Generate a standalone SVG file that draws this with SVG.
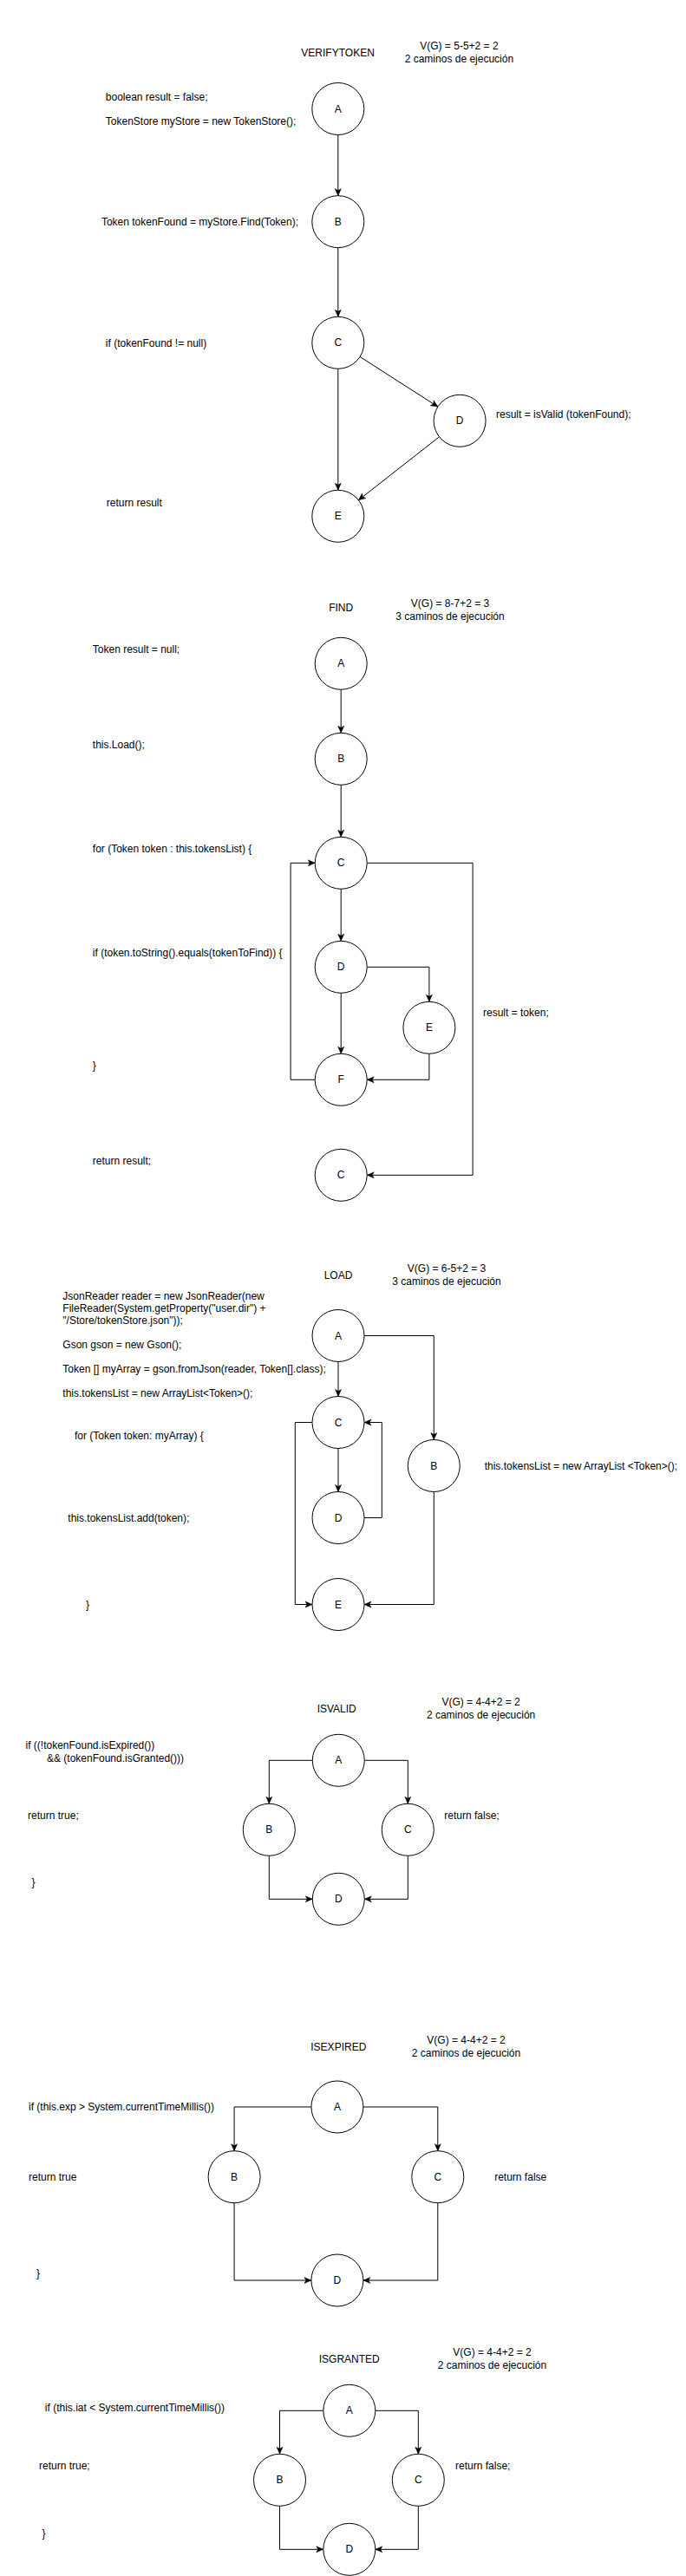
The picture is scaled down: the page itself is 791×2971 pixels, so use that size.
<svg xmlns="http://www.w3.org/2000/svg" width="791" height="2971" viewBox="0 0 791 2971">
<style>
text{font-family:"Liberation Sans",Arial,Helvetica,sans-serif;font-size:12px;fill:#000}
.m{text-anchor:middle}
.n circle{fill:#fff;stroke:#000;stroke-width:1}
.e path{fill:none;stroke:#000;stroke-width:1;marker-end:url(#arr)}
</style>
<defs>
<marker id="arr" markerWidth="10" markerHeight="10" refX="9" refY="5" orient="auto" markerUnits="userSpaceOnUse">
<path d="M1,1.5 L9,5 L1,8.5 L3,5 z" fill="#000" stroke="#000" stroke-width="0.5"/>
</marker>
</defs>
<rect width="791" height="2971" fill="#fff"/>

<!-- ===== VERIFYTOKEN ===== -->
<g id="verify-labels">
<text class="m" x="389.6" y="64.7">VERIFYTOKEN</text>
<text class="m" x="529.4" y="57.3">V(G) = 5-5+2 = 2</text>
<text class="m" x="529.4" y="71.7">2 caminos de ejecución</text>
<text x="121.8" y="115.7">boolean result = false;</text>
<text x="121.8" y="144">TokenStore myStore = new TokenStore();</text>
<text x="116.9" y="259.7">Token tokenFound = myStore.Find(Token);</text>
<text x="121.8" y="399.7">if (tokenFound != null)</text>
<text x="572" y="482.3">result = isValid (tokenFound);</text>
<text x="122.8" y="584">return result</text>
</g>
<g class="e" id="verify-edges">
<path d="M389.8,155.5 V225.7"/>
<path d="M389.8,285.7 V365.3"/>
<path d="M415.1,411.5 L504.9,469.1"/>
<path d="M389.8,425.3 V565.3"/>
<path d="M506.5,503.8 L413.4,576.8"/>
</g>
<g class="n" id="v-A"><circle cx="389.8" cy="125.5" r="30"/><text class="m" x="389.8" y="129.5">A</text></g>
<g class="n" id="v-B"><circle cx="389.8" cy="255.7" r="30"/><text class="m" x="389.8" y="259.7">B</text></g>
<g class="n" id="v-C"><circle cx="389.8" cy="395.3" r="30"/><text class="m" x="389.8" y="399.3">C</text></g>
<g class="n" id="v-D"><circle cx="530.1" cy="485.3" r="30"/><text class="m" x="530.1" y="489.3">D</text></g>
<g class="n" id="v-E"><circle cx="389.8" cy="595.3" r="30"/><text class="m" x="389.8" y="599.3">E</text></g>

<!-- ===== FIND ===== -->
<g id="find-labels">
<text class="m" x="393.2" y="704.7">FIND</text>
<text class="m" x="519" y="699.7">V(G) = 8-7+2 = 3</text>
<text class="m" x="519" y="714.7">3 caminos de ejecución</text>
<text x="106.8" y="753">Token result = null;</text>
<text x="106.8" y="863.3">this.Load();</text>
<text x="106.8" y="983">for (Token token : this.tokensList) {</text>
<text x="106.8" y="1103">if (token.toString().equals(tokenToFind)) {</text>
<text x="106.8" y="1233.3">}</text>
<text x="106.8" y="1343">return result;</text>
<text x="557" y="1172.3">result = token;</text>
</g>
<g class="e" id="find-edges">
<path d="M393.2,795.3 V845.3"/>
<path d="M393.2,905.3 V965.3"/>
<path d="M393.2,1025.3 V1085.3"/>
<path d="M423.2,1115.3 H494.9 V1155.3"/>
<path d="M393.2,1145.3 V1215.3"/>
<path d="M494.9,1215.3 V1245.3 H423.2"/>
<path d="M363.2,1245.3 H335.1 V995.3 H363.2"/>
<path d="M423.2,995.3 H545.1 V1355.3 H423.2"/>
</g>
<g class="n" id="f-A"><circle cx="393.2" cy="765.3" r="30"/><text class="m" x="393.2" y="769.3">A</text></g>
<g class="n" id="f-B"><circle cx="393.2" cy="875.3" r="30"/><text class="m" x="393.2" y="879.3">B</text></g>
<g class="n" id="f-C"><circle cx="393.2" cy="995.3" r="30"/><text class="m" x="393.2" y="999.3">C</text></g>
<g class="n" id="f-D"><circle cx="393.2" cy="1115.3" r="30"/><text class="m" x="393.2" y="1119.3">D</text></g>
<g class="n" id="f-E"><circle cx="494.9" cy="1185.3" r="30"/><text class="m" x="494.9" y="1189.3">E</text></g>
<g class="n" id="f-F"><circle cx="393.2" cy="1245.3" r="30"/><text class="m" x="393.2" y="1249.3">F</text></g>
<g class="n" id="f-C2"><circle cx="393.2" cy="1355.3" r="30"/><text class="m" x="393.2" y="1359.3">C</text></g>

<!-- ===== LOAD ===== -->
<g id="load-labels">
<text class="m" x="390" y="1474.7">LOAD</text>
<text class="m" x="515" y="1467.3">V(G) = 6-5+2 = 3</text>
<text class="m" x="515" y="1481.7">3 caminos de ejecución</text>
<text x="72.3" y="1498.7">JsonReader reader = new JsonReader(new</text>
<text x="72.3" y="1512.7">FileReader(System.getProperty("user.dir") +</text>
<text x="72.3" y="1526.7">"/Store/tokenStore.json"));</text>
<text x="72.3" y="1554.7">Gson gson = new Gson();</text>
<text x="72.3" y="1582.7">Token [] myArray = gson.fromJson(reader, Token[].class);</text>
<text x="72.3" y="1610.7">this.tokensList = new ArrayList&lt;Token&gt;();</text>
<text x="86" y="1659.7">for (Token token: myArray) {</text>
<text x="78.3" y="1754.7">this.tokensList.add(token);</text>
<text x="99" y="1854.7">}</text>
<text x="558.7" y="1695">this.tokensList = new ArrayList &lt;Token&gt;();</text>
</g>
<g class="e" id="load-edges">
<path d="M390,1570.5 V1610.5"/>
<path d="M420,1540.5 H500.3 V1660.5"/>
<path d="M390,1670.5 V1720.5"/>
<path d="M420,1750.5 H440.3 V1640.5 H420"/>
<path d="M360,1640.5 H340.3 V1850.5 H360"/>
<path d="M500.3,1720.5 V1850.5 H420"/>
</g>
<g class="n" id="l-A"><circle cx="390" cy="1540.5" r="30"/><text class="m" x="390" y="1544.5">A</text></g>
<g class="n" id="l-B"><circle cx="500.3" cy="1690.5" r="30"/><text class="m" x="500.3" y="1694.5">B</text></g>
<g class="n" id="l-C"><circle cx="390" cy="1640.5" r="30"/><text class="m" x="390" y="1644.5">C</text></g>
<g class="n" id="l-D"><circle cx="390" cy="1750.5" r="30"/><text class="m" x="390" y="1754.5">D</text></g>
<g class="n" id="l-E"><circle cx="390" cy="1850.5" r="30"/><text class="m" x="390" y="1854.5">E</text></g>

<!-- ===== ISVALID ===== -->
<g id="isvalid-labels">
<text class="m" x="388.2" y="1974.7">ISVALID</text>
<text class="m" x="554.6" y="1967.3">V(G) = 4-4+2 = 2</text>
<text class="m" x="554.6" y="1981.7">2 caminos de ejecución</text>
<text x="29.5" y="2017.3">if ((!tokenFound.isExpired())</text>
<text x="54" y="2032.3">&amp;&amp; (tokenFound.isGranted()))</text>
<text x="32.1" y="2098">return true;</text>
<text x="36.6" y="2175">}</text>
<text x="512.3" y="2098">return false;</text>
</g>
<g class="e" id="isvalid-edges">
<path d="M360.3,2030.3 H310.3 V2080.3"/>
<path d="M420.3,2030.3 H470.3 V2080.3"/>
<path d="M310.3,2140.3 V2190.3 H360.3"/>
<path d="M470.3,2140.3 V2190.3 H420.3"/>
</g>
<g class="n" id="iv-A"><circle cx="390.3" cy="2030.3" r="30"/><text class="m" x="390.3" y="2034.3">A</text></g>
<g class="n" id="iv-B"><circle cx="310.3" cy="2110.3" r="30"/><text class="m" x="310.3" y="2114.3">B</text></g>
<g class="n" id="iv-C"><circle cx="470.3" cy="2110.3" r="30"/><text class="m" x="470.3" y="2114.3">C</text></g>
<g class="n" id="iv-D"><circle cx="390.3" cy="2190.3" r="30"/><text class="m" x="390.3" y="2194.3">D</text></g>

<!-- ===== ISEXPIRED ===== -->
<g id="isexpired-labels">
<text class="m" x="390.3" y="2364.7">ISEXPIRED</text>
<text class="m" x="537.5" y="2357.3">V(G) = 4-4+2 = 2</text>
<text class="m" x="537.5" y="2371.7">2 caminos de ejecución</text>
<text x="33" y="2434">if (this.exp &gt; System.currentTimeMillis())</text>
<text x="33" y="2514.7">return true</text>
<text x="41.9" y="2625.7">}</text>
<text x="570.2" y="2514.7">return false</text>
</g>
<g class="e" id="isexpired-edges">
<path d="M358.9,2430 H270.1 V2480.7"/>
<path d="M418.9,2430 H504.8 V2480.7"/>
<path d="M270.1,2540.7 V2630 H358.9"/>
<path d="M504.8,2540.7 V2630 H418.9"/>
</g>
<g class="n" id="ie-A"><circle cx="388.9" cy="2430" r="30"/><text class="m" x="388.9" y="2434">A</text></g>
<g class="n" id="ie-B"><circle cx="270.1" cy="2510.7" r="30"/><text class="m" x="270.1" y="2514.7">B</text></g>
<g class="n" id="ie-C"><circle cx="504.8" cy="2510.7" r="30"/><text class="m" x="504.8" y="2514.7">C</text></g>
<g class="n" id="ie-D"><circle cx="388.9" cy="2630" r="30"/><text class="m" x="388.9" y="2634">D</text></g>

<!-- ===== ISGRANTED ===== -->
<g id="isgranted-labels">
<text class="m" x="402.8" y="2724.7">ISGRANTED</text>
<text class="m" x="567.5" y="2717.3">V(G) = 4-4+2 = 2</text>
<text class="m" x="567.5" y="2731.7">2 caminos de ejecución</text>
<text x="51.8" y="2780.7">if (this.iat &lt; System.currentTimeMillis())</text>
<text x="45" y="2848">return true;</text>
<text x="48.6" y="2926.3">}</text>
<text x="525.1" y="2848">return false;</text>
</g>
<g class="e" id="isgranted-edges">
<path d="M372.8,2780.3 H322.5 V2830.3"/>
<path d="M432.8,2780.3 H482.3 V2830.3"/>
<path d="M322.5,2890.3 V2940.3 H372.8"/>
<path d="M482.3,2890.3 V2940.3 H432.8"/>
</g>
<g class="n" id="ig-A"><circle cx="402.8" cy="2780.3" r="30"/><text class="m" x="402.8" y="2784.3">A</text></g>
<g class="n" id="ig-B"><circle cx="322.5" cy="2860.3" r="30"/><text class="m" x="322.5" y="2864.3">B</text></g>
<g class="n" id="ig-C"><circle cx="482.3" cy="2860.3" r="30"/><text class="m" x="482.3" y="2864.3">C</text></g>
<g class="n" id="ig-D"><circle cx="402.8" cy="2940.3" r="30"/><text class="m" x="402.8" y="2944.3">D</text></g>
</svg>
